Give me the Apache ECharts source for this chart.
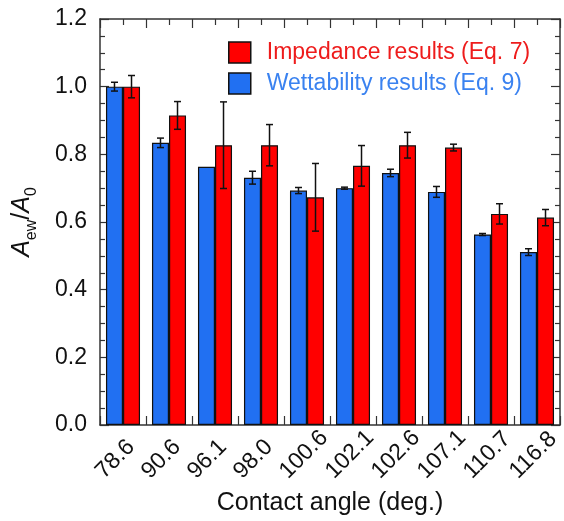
<!DOCTYPE html>
<html>
<head>
<meta charset="utf-8">
<script src="https://cdn.jsdelivr.net/npm/echarts@6/dist/echarts.min.js"></script>
<style>
html,body{margin:0;padding:0;background:#fff;}
#chart{width:564px;height:521px;}
</style>
</head>
<body>
<div id="chart"></div>
<script>
var categories = ['78.6','90.6','96.1','98.0','100.6','102.1','102.6','107.1','110.7','116.8'];
var wettability = [1.000, 0.834, 0.763, 0.731, 0.693, 0.700, 0.745, 0.689, 0.563, 0.511];
var wettabilityErr = [0.013, 0.014, 0.000, 0.019, 0.009, 0.003, 0.011, 0.016, 0.003, 0.010];
var impedance = [1.000, 0.915, 0.827, 0.827, 0.673, 0.766, 0.827, 0.820, 0.624, 0.613];
var impedanceErr = [0.033, 0.041, 0.128, 0.061, 0.100, 0.060, 0.038, 0.010, 0.030, 0.024];
var seriesNames = ['Wettability results (Eq. 9)', 'Impedance results (Eq. 7)'];
var xTitle = 'Contact angle (deg.)';

var FONT = "'Liberation Sans', Arial, Helvetica, sans-serif";
var BLUE = '#2170f2';
var RED = '#ff0000';
var BAR_FRAC = 0.37;
var AXIS_COLOR = '#333';

function errData(vals, errs) {
  return vals.map(function (v, i) { return [i, v, errs[i]]; });
}

function makeErrRender(sign) {
  return function (params, api) {
    var i = api.value(0), v = api.value(1), e = api.value(2);
    if (!e) { return null; }
    var band = api.size([1, 0])[0];
    var x = api.coord([i, v])[0] + sign * band * BAR_FRAC / 2;
    var yTop = api.coord([i, v + e])[1];
    var yBot = api.coord([i, v - e])[1];
    var cap = 3.5;
    var st = { stroke: '#111', lineWidth: 1.5 };
    return {
      type: 'group',
      children: [
        { type: 'line', shape: { x1: x, y1: yTop, x2: x, y2: yBot }, style: st },
        { type: 'line', shape: { x1: x - cap, y1: yTop, x2: x + cap, y2: yTop }, style: st },
        { type: 'line', shape: { x1: x - cap, y1: yBot, x2: x + cap, y2: yBot }, style: st }
      ]
    };
  };
}

var chart = echarts.init(document.getElementById('chart'), null, { renderer: 'canvas' });

var yCommon = {
  type: 'value', min: 0, max: 1.2, interval: 0.2,
  axisLine: { show: true, lineStyle: { color: AXIS_COLOR, width: 1.5 } },
  axisTick: { show: true, inside: true, length: 9, lineStyle: { color: AXIS_COLOR, width: 1.2 } },
  minorTick: { show: true, splitNumber: 4, length: 5, lineStyle: { color: AXIS_COLOR, width: 1.2 } },
  splitLine: { show: false }
};

var option = {
  animation: false,
  backgroundColor: '#fff',
  textStyle: { fontFamily: FONT },
  grid: [
    { left: 100, right: 4, top: 19, bottom: 96, containLabel: false },
    { left: 76.5, right: 27.5, top: 19, bottom: 96, containLabel: false }
  ],
  legend: {
    orient: 'vertical',
    left: 223, top: 36,
    itemWidth: 22, itemHeight: 21, itemGap: 8,
    icon: 'rect',
    itemStyle: { borderColor: '#111', borderWidth: 1.5 },
    data: [
      { name: seriesNames[1], textStyle: { color: '#ee1c1c' } },
      { name: seriesNames[0], textStyle: { color: '#3a82f0' } }
    ],
    textStyle: { fontSize: 23, fontFamily: FONT, padding: [0, 0, 0, 11] }
  },
  xAxis: [
    {
      type: 'category', gridIndex: 0, position: 'bottom', data: categories,
      axisLine: { show: true, onZero: false, lineStyle: { color: AXIS_COLOR, width: 1.5 } },
      axisTick: { show: true, inside: true, length: 9, lineStyle: { color: AXIS_COLOR, width: 1.2 } },
      axisLabel: { show: false },
      splitLine: { show: false },
      name: xTitle, nameLocation: 'middle', nameGap: 66,
      nameTextStyle: { fontSize: 25, color: '#111', fontFamily: FONT }
    },
    {
      type: 'value', gridIndex: 0, position: 'top', min: 0, max: 10, interval: 1,
      axisLine: { show: true, onZero: false, lineStyle: { color: AXIS_COLOR, width: 1.5 } },
      axisTick: { show: true, inside: true, length: 9, lineStyle: { color: AXIS_COLOR, width: 1.2 } },
      minorTick: { show: true, splitNumber: 2, length: 6, lineStyle: { color: AXIS_COLOR, width: 1.2 } },
      axisLabel: { show: false },
      splitLine: { show: false }
    },
    {
      type: 'category', gridIndex: 1, position: 'bottom', data: categories,
      axisLine: { show: false }, axisTick: { show: false }, splitLine: { show: false },
      axisLabel: {
        show: true, interval: 0, rotate: 45, margin: 50,
        align: 'left', verticalAlign: 'middle',
        fontSize: 23, color: '#111', fontFamily: FONT
      }
    }
  ],
  yAxis: [
    Object.assign({}, yCommon, {
      gridIndex: 0, position: 'left',
      axisLabel: {
        show: true, margin: 13, fontSize: 23, color: '#111', fontFamily: FONT,
        formatter: function (v) { return v.toFixed(1); }
      },
      name: '{i|A}{s|ew}{n|/}{i|A}{s|0}',
      nameLocation: 'middle', nameGap: 60,
      nameTextStyle: {
        color: '#111', fontFamily: FONT,
        rich: {
          i: { fontSize: 25, fontStyle: 'italic', lineHeight: 36, color: '#111', fontFamily: FONT },
          n: { fontSize: 25, lineHeight: 36, color: '#111', fontFamily: FONT },
          s: { fontSize: 16, lineHeight: 14, verticalAlign: 'bottom', color: '#111', fontFamily: FONT }
        }
      }
    }),
    Object.assign({}, yCommon, {
      gridIndex: 0, position: 'right',
      axisLabel: { show: false }
    }),
    { type: 'value', gridIndex: 1, show: false, min: 0, max: 1.2 }
  ],
  series: [
    {
      name: seriesNames[0], type: 'bar', xAxisIndex: 0, yAxisIndex: 0,
      data: wettability, barWidth: (BAR_FRAC * 100) + '%', barGap: '0%',
      itemStyle: { color: BLUE, borderColor: '#111', borderWidth: 1.2 },
      z: 2
    },
    {
      name: seriesNames[1], type: 'bar', xAxisIndex: 0, yAxisIndex: 0,
      data: impedance, barWidth: (BAR_FRAC * 100) + '%', barGap: '0%',
      itemStyle: { color: RED, borderColor: '#111', borderWidth: 1.2 },
      z: 2
    },
    {
      name: 'errW', type: 'custom', xAxisIndex: 0, yAxisIndex: 0,
      data: errData(wettability, wettabilityErr),
      encode: { x: 0, y: 1 },
      renderItem: makeErrRender(-1), z: 5, silent: true
    },
    {
      name: 'errI', type: 'custom', xAxisIndex: 0, yAxisIndex: 0,
      data: errData(impedance, impedanceErr),
      encode: { x: 0, y: 1 },
      renderItem: makeErrRender(1), z: 5, silent: true
    }
  ]
};

chart.setOption(option);
</script>
</body>
</html>
